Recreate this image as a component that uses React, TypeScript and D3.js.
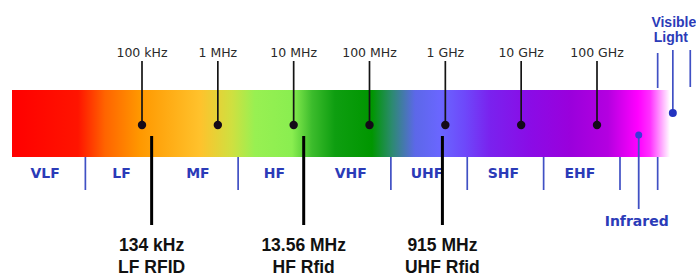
import React from "react";
import * as d3 from "d3";

// ---- data ----
const tickDecades = [5, 6, 7, 8, 9, 10, 11];
const tickLabels = ["100 kHz", "1 MHz", "10 MHz", "100 MHz", "1 GHz", "10 GHz", "100 GHz"];
const bands = ["VLF", "LF", "MF", "HF", "VHF", "UHF", "SHF", "EHF"];
const dividerAfter = ["VLF", "MF", "VHF", "UHF", "SHF", "EHF"];
const rfidFreqHz = [134e3, 13.56e6, 915e6];
const rfidFreqLabels = ["134 kHz", "13.56 MHz", "915 MHz"];
const rfidNames = ["LF RFID", "HF Rfid", "UHF Rfid"];
const infraredDecade = 11.55;
const visibleDecades = [11.8, 12.0, 12.23];
const infraredLabel = "Infrared";
const visibleLabel = ["Visible", "Light"];

// ---- styles ----
const W = 696;
const H = 277;
const barTop = 90;
const barBottom = 157;
const blue = "#2b3bb8";
const lineBlue = "#4050c4";

const gradientStops: [number, string][] = [
  [12, "#ff0000"],
  [78, "#ff1400"],
  [105, "#ff6400"],
  [140, "#ff9800"],
  [200, "#ffc22c"],
  [232, "#cfe040"],
  [255, "#98f052"],
  [292, "#8aee50"],
  [312, "#3cbc2c"],
  [335, "#0e9e10"],
  [372, "#009600"],
  [392, "#2c8a70"],
  [415, "#5c68e8"],
  [440, "#6a66ff"],
  [465, "#6e48fa"],
  [490, "#7a22ee"],
  [530, "#8a0ce6"],
  [570, "#9a00dc"],
  [608, "#b400e0"],
  [638, "#ff00ff"],
  [650, "#ff30ff"],
  [670, "#ffffff"],
];

export default function App() {
  const xDec = d3.scaleLinear().domain([5, 11]).range([142, 597]);
  const bandX = d3.scaleBand<string>().domain(bands).range([9, 620]);
  const barX0 = 12;
  const barX1 = 672;
  const gx0 = gradientStops[0][0];
  const gx1 = gradientStops[gradientStops.length - 1][0];

  const visX = visibleDecades.map((d) => xDec(d));
  const irX = xDec(infraredDecade);

  return (
    <svg
      width={W}
      height={H}
      style={{ position: "absolute", left: 0, top: 0, background: "#fff" }}
    >
      <defs>
        <linearGradient id="spec" gradientUnits="userSpaceOnUse" x1={gx0} x2={gx1} y1={0} y2={0}>
          {gradientStops.map(([px, c], i) => (
            <stop key={i} offset={(px - gx0) / (gx1 - gx0)} stopColor={c} />
          ))}
        </linearGradient>
      </defs>
      <rect x={0} y={0} width={W} height={H} fill="#fff" />
      <rect x={barX0} y={barTop} width={barX1 - barX0} height={barBottom - barTop} fill="url(#spec)" />

      {/* decade ticks */}
      {tickDecades.map((d, i) => (
        <g key={"t" + i}>
          <text
            x={xDec(d)}
            y={57}
            textAnchor="middle"
            fontFamily="DejaVu Sans"
            fontSize={12.5}
            fill="#2a2a2a"
          >
            {tickLabels[i]}
          </text>
          <line x1={xDec(d)} x2={xDec(d)} y1={61} y2={125} stroke="#141414" strokeWidth={1.7} />
          <circle cx={xDec(d)} cy={125} r={4.2} fill="#140a18" />
        </g>
      ))}

      {/* band labels and dividers */}
      {bands.map((b) => (
        <text
          key={"b" + b}
          x={(bandX(b) as number) + bandX.bandwidth() / 2 - 2}
          y={178}
          textAnchor="middle"
          fontFamily="DejaVu Sans"
          fontWeight="bold"
          fontSize={14}
          fill={blue}
        >
          {b}
        </text>
      ))}
      {dividerAfter.map((b) => {
        const x = (bandX(b) as number) + bandX.bandwidth();
        return <line key={"d" + b} x1={x} x2={x} y1={barBottom} y2={190} stroke={lineBlue} strokeWidth={1.7} />;
      })}

      {/* RFID markers */}
      {rfidFreqHz.map((f, i) => {
        const x = xDec(Math.log10(f));
        return (
          <g key={"r" + i}>
            <line x1={x} x2={x} y1={136} y2={225} stroke="#000" strokeWidth={3} />
            <text
              x={x}
              y={251}
              textAnchor="middle"
              fontFamily="Liberation Sans, Arial"
              fontWeight="bold"
              fontSize={17.5}
              fill="#111"
            >
              {rfidFreqLabels[i]}
            </text>
            <text
              x={x}
              y={273}
              textAnchor="middle"
              fontFamily="Liberation Sans, Arial"
              fontWeight="bold"
              fontSize={17.5}
              fill="#111"
            >
              {rfidNames[i]}
            </text>
          </g>
        );
      })}

      {/* infrared */}
      <line x1={irX} x2={irX} y1={135} y2={209} stroke={lineBlue} strokeWidth={1.8} />
      <circle cx={irX} cy={135} r={3.5} fill="#3a3ad8" />
      <text
        x={irX - 2}
        y={226}
        textAnchor="middle"
        fontFamily="DejaVu Sans"
        fontWeight="bold"
        fontSize={14}
        fill={blue}
      >
        {infraredLabel}
      </text>

      {/* visible light */}
      <line x1={visX[0]} x2={visX[0]} y1={53} y2={88} stroke={lineBlue} strokeWidth={1.7} />
      <line x1={visX[0]} x2={visX[0]} y1={barBottom} y2={190} stroke={lineBlue} strokeWidth={1.7} />
      <line x1={visX[1]} x2={visX[1]} y1={50} y2={113} stroke={lineBlue} strokeWidth={1.7} />
      <circle cx={visX[1]} cy={113} r={4} fill="#2233c0" />
      <line x1={visX[2]} x2={visX[2]} y1={50} y2={87} stroke={lineBlue} strokeWidth={1.7} />
      {visibleLabel.map((t, i) => (
        <text
          key={"v" + i}
          x={visX[1] + (i === 0 ? 1 : -2)}
          y={27 + i * 15}
          textAnchor="middle"
          fontFamily="Liberation Sans, Arial"
          fontWeight="bold"
          fontSize={14}
          fill={blue}
        >
          {t}
        </text>
      ))}
    </svg>
  );
}
